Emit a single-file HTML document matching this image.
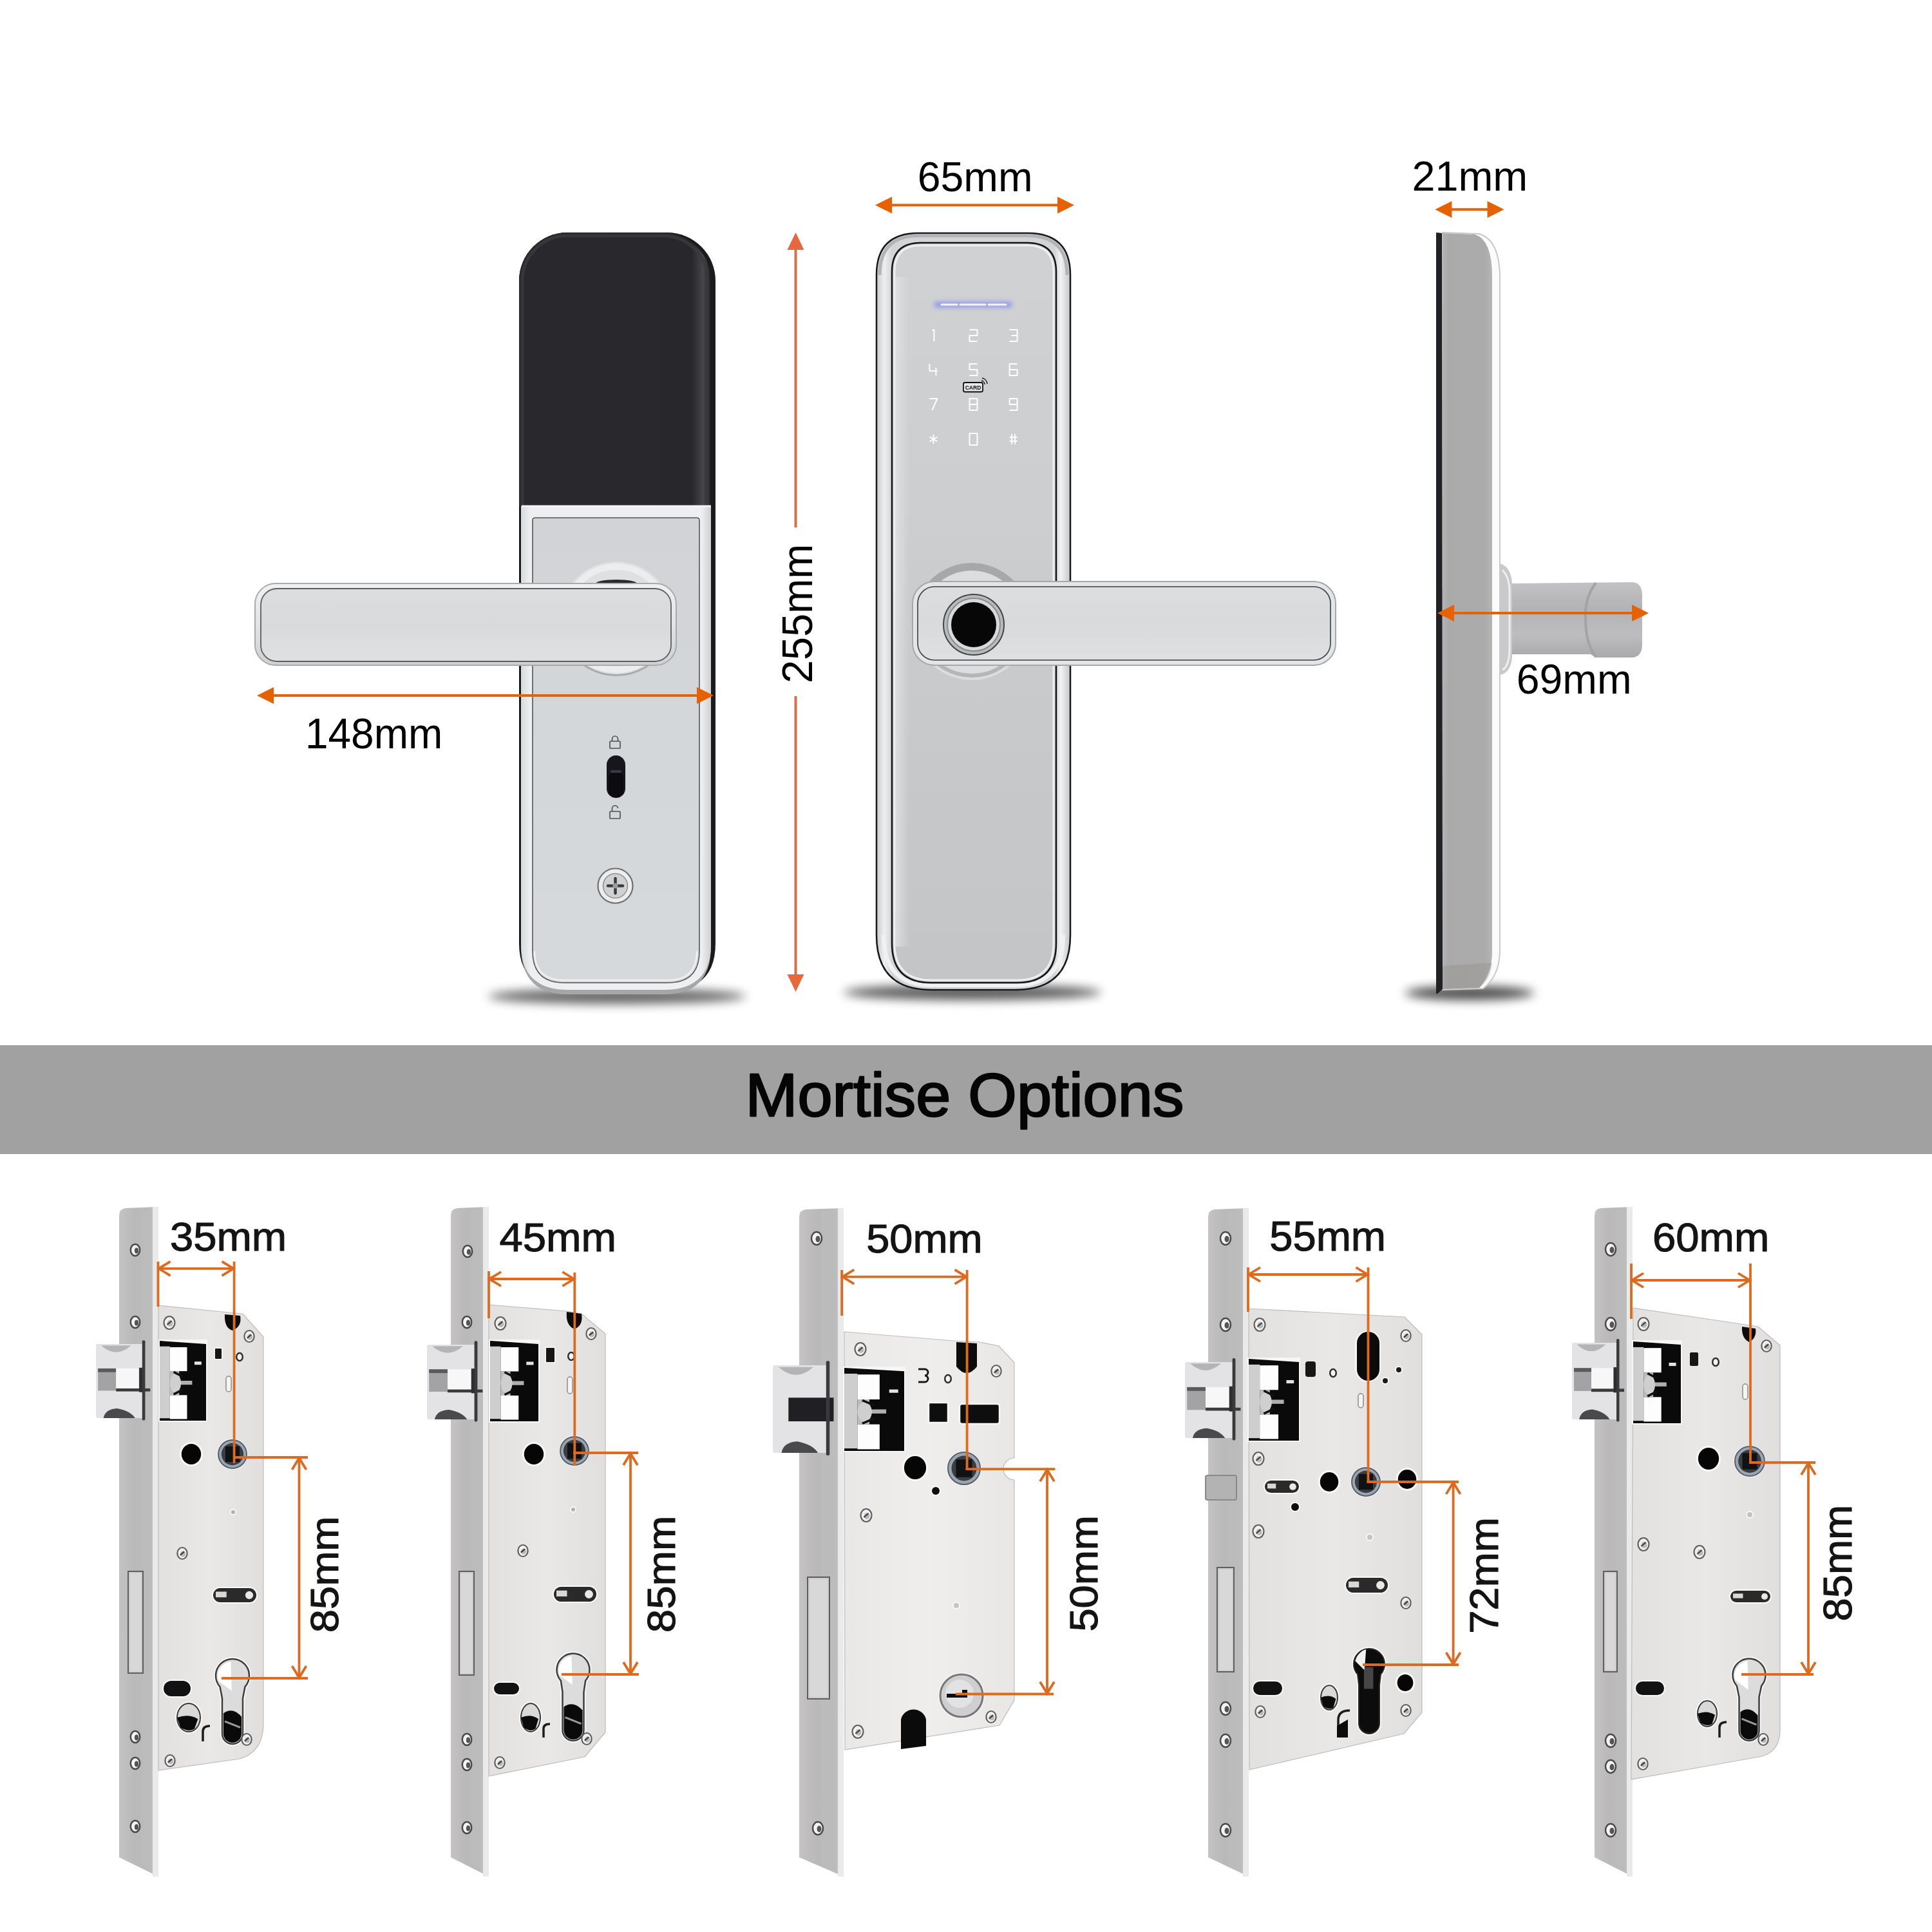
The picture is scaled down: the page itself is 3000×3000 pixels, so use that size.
<!DOCTYPE html>
<html><head><meta charset="utf-8"><style>
html,body{margin:0;padding:0;background:#fff;width:3000px;height:3000px;overflow:hidden}
svg{display:block;font-family:"Liberation Sans", sans-serif}
</style></head><body>
<svg width="3000" height="3000" viewBox="0 0 3000 3000">
<rect width="3000" height="3000" fill="#ffffff"/>

<defs>
<filter id="blur8" x="-50%" y="-200%" width="200%" height="500%"><feGaussianBlur stdDeviation="8"/></filter>
<filter id="blur4" x="-50%" y="-200%" width="200%" height="500%"><feGaussianBlur stdDeviation="4"/></filter>
<filter id="blur2" x="-50%" y="-50%" width="200%" height="200%"><feGaussianBlur stdDeviation="1.5"/></filter>
<filter id="glow" x="-50%" y="-800%" width="200%" height="1700%"><feGaussianBlur stdDeviation="3"/></filter>
<linearGradient id="blackTop" x1="0" x2="1" y1="0" y2="0">
 <stop offset="0" stop-color="#29292d"/><stop offset="0.9" stop-color="#28282c"/><stop offset="0.96" stop-color="#46464b"/><stop offset="1" stop-color="#1c1c1e"/>
</linearGradient>
<linearGradient id="panelBack" x1="0" x2="0" y1="0" y2="1">
 <stop offset="0" stop-color="#d1d3d6"/><stop offset="0.5" stop-color="#d4d7da"/><stop offset="1" stop-color="#d6d9dc"/>
</linearGradient>
<linearGradient id="panelFront" x1="0" x2="0" y1="0" y2="1">
 <stop offset="0" stop-color="#d0d1d3"/><stop offset="0.35" stop-color="#cdcecf"/><stop offset="0.7" stop-color="#c7c8c9"/><stop offset="1" stop-color="#c4c5c7"/>
</linearGradient>
<linearGradient id="leverFace" x1="0" x2="0" y1="0" y2="1">
 <stop offset="0" stop-color="#dcdddf"/><stop offset="0.5" stop-color="#d9dadc"/><stop offset="1" stop-color="#dfe0e2"/>
</linearGradient>
<linearGradient id="sideBody" x1="0" x2="1" y1="0" y2="0">
 <stop offset="0" stop-color="#b4b4b4"/><stop offset="0.12" stop-color="#aaaaaa"/><stop offset="0.85" stop-color="#ababab"/><stop offset="1" stop-color="#b5b5b5"/>
</linearGradient>
<linearGradient id="knob" x1="0" x2="0" y1="0" y2="1">
 <stop offset="0" stop-color="#c2c2c4"/><stop offset="0.35" stop-color="#b3b3b5"/><stop offset="0.7" stop-color="#bdbdbf"/><stop offset="1" stop-color="#a9a9ab"/>
</linearGradient>
<radialGradient id="rose" cx="0.5" cy="0.5" r="0.5">
 <stop offset="0.6" stop-color="#e4e5e7"/><stop offset="0.9" stop-color="#d5d6d8"/><stop offset="1" stop-color="#c0c1c3"/>
</radialGradient>
<linearGradient id="fpGrad" x1="0" x2="1" y1="0" y2="0">
 <stop offset="0" stop-color="#c4c2c2"/><stop offset="0.4" stop-color="#bab9b9"/><stop offset="0.8" stop-color="#bdbcbc"/><stop offset="1" stop-color="#c8c7c7"/>
</linearGradient>
<linearGradient id="bodyGrad" x1="0" x2="1" y1="0" y2="0">
 <stop offset="0" stop-color="#e3e1df"/><stop offset="0.5" stop-color="#eae8e7"/><stop offset="1" stop-color="#e1dfdd"/>
</linearGradient>
<linearGradient id="bodyGrad3" x1="0" x2="1" y1="0" y2="0">
 <stop offset="0" stop-color="#e9e8e6"/><stop offset="0.5" stop-color="#efeeec"/><stop offset="1" stop-color="#e8e7e5"/>
</linearGradient>
<linearGradient id="latchGrad" x1="0" x2="0" y1="0" y2="1">
 <stop offset="0" stop-color="#d3d2d2"/><stop offset="0.3" stop-color="#c4c3c3"/><stop offset="0.6" stop-color="#d9d8d8"/><stop offset="1" stop-color="#bdbcbc"/>
</linearGradient>
<linearGradient id="bezelBack" x1="0" x2="1" y1="0" y2="0">
 <stop offset="0" stop-color="#d9dadc"/><stop offset="0.05" stop-color="#eeeff0"/><stop offset="0.95" stop-color="#eeeff0"/><stop offset="1" stop-color="#cfd0d2"/>
</linearGradient>
<linearGradient id="bezelFront" x1="0" x2="1" y1="0" y2="0">
 <stop offset="0" stop-color="#c9cacc"/><stop offset="0.04" stop-color="#eeeff0"/><stop offset="0.08" stop-color="#d3d4d6"/><stop offset="0.92" stop-color="#d3d4d6"/><stop offset="0.95" stop-color="#f2f3f4"/><stop offset="1" stop-color="#c5c6c8"/>
</linearGradient>
<linearGradient id="leverRim" x1="0" x2="0" y1="0" y2="1">
 <stop offset="0" stop-color="#f0f1f2"/><stop offset="0.5" stop-color="#e2e3e5"/><stop offset="1" stop-color="#cfd0d2"/>
</linearGradient>
<linearGradient id="leftHL" x1="0" x2="1" y1="0" y2="0"><stop offset="0" stop-color="#e2e3e5" stop-opacity="0.8"/><stop offset="1" stop-color="#e2e3e5" stop-opacity="0"/></linearGradient>
</defs>

<rect x="0" y="1623" width="3000" height="169" fill="#a1a1a1"/><ellipse cx="958" cy="1547" rx="200" ry="12" fill="#000" opacity="0.6" filter="url(#blur8)"/><path d="M806 436 A75 75 0 0 1 881 361 L1036 361 A75 75 0 0 1 1111 436 L1111 1465 Q1111 1530 1050 1538 L870 1538 Q806 1530 806 1465 Z" fill="#1b1b1e"/><path d="M806 436 A75 75 0 0 1 881 361 L1029 361 A75 75 0 0 1 1104 436 L1104 786 L806 786 Z" fill="url(#blackTop)"/><path d="M811 786 L811 436 A70 70 0 0 1 881 366 L1029 366 A70 70 0 0 1 1099 436 L1099 786" fill="none" stroke="#3a3a3f" stroke-width="5" opacity="0.8"/><path d="M809 786 L1104 786 L1104 1470 Q1104 1544 1031 1544 L882 1544 Q809 1544 809 1470 Z" fill="#a5a6a8"/><path d="M809 786 L1104 786 L1104 1466 Q1104 1537 1031 1537 L882 1537 Q809 1537 809 1466 Z" fill="url(#bezelBack)"/><line x1="810" y1="786" x2="1104" y2="786" stroke="#f4f5f6" stroke-width="3"/><path d="M827 808 Q827 804 831 804 L1082 804 Q1086 804 1086 808 L1086 1477 Q1086 1526 1037 1526 L876 1526 Q827 1526 827 1477 Z" fill="url(#panelBack)" stroke="#55565a" stroke-width="1.6"/><path d="M830 1477 Q830 1522 876 1522 L1037 1522 Q1082 1522 1082 1477" fill="none" stroke="#eef0f2" stroke-width="2.5"/><circle cx="957" cy="960" r="88" fill="#dfe0e2"/><circle cx="957" cy="960" r="80" fill="none" stroke="#ecedef" stroke-width="10"/><path d="M880 1003 A88 88 0 0 0 1034 1003" fill="none" stroke="#a9aaac" stroke-width="3"/><ellipse cx="957" cy="906" rx="32" ry="6" fill="#2a2a2e"/><rect x="396" y="906" width="654" height="127" rx="32" fill="url(#leverRim)" stroke="#a9aaac" stroke-width="2"/><rect x="405" y="914" width="637" height="113" rx="25" fill="url(#leverFace)" stroke="#5d5e60" stroke-width="1.8"/><rect x="942" y="1173" width="29" height="66" rx="14.5" fill="#16161c"/><rect x="945" y="1198" width="23" height="40" rx="9" fill="#0b0b10"/><rect x="948" y="1196" width="17" height="4" rx="2" fill="#3a3a44"/><g fill="none" stroke="#505155" stroke-width="1.7"><rect x="947" y="1151" width="16" height="11" rx="1"/><path d="M950.5 1151 v-3.5 a4.5 4.5 0 0 1 9 0 v3.5"/><rect x="947" y="1260" width="16" height="11" rx="1"/><path d="M950.5 1260 v-4 a4.5 4.5 0 0 1 9 -1"/></g><circle cx="955.5" cy="1375.5" r="27" fill="#eceded" stroke="#6f7073" stroke-width="2.2"/><circle cx="955.5" cy="1375.5" r="19" fill="#d0d1d3" stroke="#8d8e91" stroke-width="1.5"/><path d="M955.5 1364 v23 M944 1375.5 h23" stroke="#3a3b3e" stroke-width="4.5" stroke-linecap="round"/><circle cx="955.5" cy="1375.5" r="4" fill="#9a9b9d"/><ellipse cx="1510" cy="1541" rx="200" ry="12" fill="#000" opacity="0.65" filter="url(#blur8)"/><path d="M1361 427 Q1361 362 1426 362 L1596 362 Q1662 362 1662 427 L1662 1452 Q1662 1537 1577 1537 L1446 1537 Q1361 1537 1361 1452 Z" fill="url(#bezelFront)"/><path d="M1361 427 Q1361 362 1426 362 L1596 362 Q1662 362 1662 427 L1662 1452 Q1662 1537 1577 1537 L1446 1537 Q1361 1537 1361 1452 Z" fill="none" stroke="#18181a" stroke-width="2.5"/><path d="M1366 427 Q1366 366 1426 366 L1596 366 Q1657 366 1657 427" fill="none" stroke="#b3b4b6" stroke-width="5"/><path d="M1372 1452 Q1372 1530 1446 1530 L1577 1530 Q1651 1530 1651 1452" fill="none" stroke="#f0f1f2" stroke-width="6"/><path d="M1385 422 Q1385 377 1430 377 L1595 377 Q1640 377 1640 422 L1640 1465 Q1640 1526 1579 1526 L1446 1526 Q1385 1526 1385 1465 Z" fill="url(#panelFront)" stroke="#141416" stroke-width="2.5"/><path d="M1389 422 Q1389 381 1430 381 L1595 381 Q1636 381 1636 422 L1636 1465 Q1636 1522 1579 1522 L1446 1522 Q1389 1522 1389 1465 Z" fill="none" stroke="#eceef0" stroke-width="3"/><rect x="1390" y="430" width="22" height="1040" fill="url(#leftHL)"/><rect x="1450" y="468" width="122" height="10" rx="5" fill="#6a78ff" opacity="0.55" filter="url(#glow)"/><g stroke="#f4f5ff" stroke-width="3" stroke-linecap="round"><line x1="1462" y1="473" x2="1486" y2="473"/><line x1="1491" y1="473" x2="1530" y2="473"/><line x1="1535" y1="473" x2="1562" y2="473"/></g><g fill="none" stroke="#ffffff" stroke-width="2" stroke-linejoin="round"><path transform="translate(1449.4 521)" d="M-2 -8 L1 -9 L1 9"/><path transform="translate(1511.5 521)" d="M-6 -9 H6 V0 H-6 V9 H6"/><path transform="translate(1573.6 521)" d="M-6 -9 H6 V9 H-6 M-3 0 H6"/><path transform="translate(1449.4 574)" d="M-6 -9 V2 H6 M4 -3 V9"/><path transform="translate(1511.5 574)" d="M6 -9 H-6 V0 H6 V9 H-6"/><path transform="translate(1573.6 574)" d="M6 -9 H-6 V9 H6 V0 H-6"/><path transform="translate(1449.4 628)" d="M-6 -9 H6 L-2 9"/><path transform="translate(1511.5 628)" d="M-6 -9 H6 V9 H-6 Z M-6 0 H6"/><path transform="translate(1573.6 628)" d="M6 0 H-6 V-9 H6 V9 H-6"/><path transform="translate(1449.4 682)" d="M0 -7 V7 M-6 -3.5 L6 3.5 M-6 3.5 L6 -3.5"/><path transform="translate(1511.5 682)" d="M-6 -9 H6 V9 H-6 Z"/><path transform="translate(1573.6 682)" d="M-2.5 -8 V8 M2.5 -8 V8 M-6 -3 H6 M-6 3 H6"/></g><rect x="1496" y="594" width="30" height="14.5" rx="2.5" fill="#e8e8e8" stroke="#111" stroke-width="1.8"/><text x="1511" y="605" font-size="8.5" font-weight="bold" text-anchor="middle" fill="#111" font-family='"Liberation Sans", sans-serif'>CARD</text><path d="M1524 591 a6 6 0 0 1 5 6 M1525 587 a10 10 0 0 1 8 9" fill="none" stroke="#111" stroke-width="1.4"/><circle cx="1509" cy="965" r="91" fill="#dcdde0"/><path d="M1424 965 A85 85 0 0 1 1594 965" fill="none" stroke="#a7a8aa" stroke-width="12"/><path d="M1438 1010 A84 84 0 0 0 1580 1010" fill="none" stroke="#b5b6b8" stroke-width="6"/><rect x="1417" y="903" width="657" height="130" rx="34" fill="#e4e5e7" stroke="#a7a8aa" stroke-width="2"/><rect x="1425" y="911" width="641" height="114" rx="26" fill="url(#leverFace)" stroke="#3d3e40" stroke-width="1.6"/><circle cx="1512" cy="970" r="47" fill="#b9babc" stroke="#444" stroke-width="2"/><circle cx="1512" cy="970" r="41" fill="#d8d9db" stroke="#8a8b8d" stroke-width="2"/><circle cx="1512" cy="970" r="35" fill="#070708"/><ellipse cx="2282" cy="1542" rx="100" ry="11" fill="#000" opacity="0.7" filter="url(#blur8)"/><path d="M2240 361 L2296 363 Q2329 372 2329 432 L2329 1475 Q2329 1515 2303 1535 L2240 1537 Z" fill="#fbfbfb" stroke="#c9c9c9" stroke-width="2"/><path d="M2240 362 L2290 364 Q2317 372 2317 430 L2317 1478 Q2317 1512 2297 1534 L2240 1536 Z" fill="url(#sideBody)"/><path d="M2240 1500 L2317 1495 Q2315 1520 2297 1534 L2240 1536 Z" fill="#8e8c8a" opacity="0.35"/><path d="M2230 361 L2239 362 L2240 1536 L2232 1543 L2230 1543 Z" fill="#202124"/><path d="M2329 875 Q2346 880 2348 905 L2348 1020 Q2346 1045 2329 1048 Z" fill="#c9c9cb"/><path d="M2333 885 Q2343 895 2344 915 L2344 1010 Q2343 1035 2333 1040" fill="none" stroke="#eeeeee" stroke-width="3"/><path d="M2348 906 L2535 904 Q2550 905 2550 925 L2550 1000 Q2550 1020 2535 1021 L2478 1021 Q2470 1016 2470 1016 L2348 1016 Z" fill="url(#knob)"/><path d="M2478 905 Q2460 930 2462 960 Q2462 1000 2478 1020" fill="none" stroke="#a3a3a5" stroke-width="4"/><line x1="1384" y1="318.6" x2="1643" y2="318.6" stroke="#e66200" stroke-width="4"/><polygon points="1359,318.6 1385,305.6 1385,331.6" fill="#e66200"/><polygon points="1668,318.6 1642,305.6 1642,331.6" fill="#e66200"/><line x1="2253.4" y1="325.3" x2="2310.5" y2="325.3" stroke="#e66200" stroke-width="4"/><polygon points="2228.4,325.3 2254.4,312.3 2254.4,338.3" fill="#e66200"/><polygon points="2335.5,325.3 2309.5,312.3 2309.5,338.3" fill="#e66200"/><line x1="424" y1="1080" x2="1083" y2="1080" stroke="#e66200" stroke-width="4"/><polygon points="399,1080 425,1067 425,1093" fill="#e66200"/><polygon points="1108,1080 1082,1067 1082,1093" fill="#e66200"/><line x1="2257" y1="952" x2="2535" y2="952" stroke="#e66200" stroke-width="4"/><polygon points="2232,952 2258,939 2258,965" fill="#e66200"/><polygon points="2560,952 2534,939 2534,965" fill="#e66200"/><line x1="1235.5" y1="386" x2="1235.5" y2="819" stroke="#df6c44" stroke-width="4"/><line x1="1235.5" y1="1081" x2="1235.5" y2="1515" stroke="#df6c44" stroke-width="4"/><polygon points="1235.5,361 1222.5,388 1248.5,388" fill="#e8683e"/><polygon points="1235.5,1540 1222.5,1513 1248.5,1513" fill="#e8683e"/><path d="M185 1888 Q185 1877 195 1876 L246 1874 L246 2914 L185 2884 Z" fill="url(#fpGrad)"/><rect x="237" y="1874" width="9" height="1040" fill="#ebeaea"/><path d="M246 2027 L345 2037 L377 2040 L409 2076 L409 2676 Q409 2720 373 2731 L246 2749 Z" fill="url(#bodyGrad)"/><path d="M246 2027 L345 2037 L377 2040 L409 2076 L409 2676 Q409 2720 373 2731 L246 2749 Z" fill="none" stroke="#bdbcbc" stroke-width="1.2"/><path d="M349 2041 L373 2043 Q376 2060 361 2066 Q348 2062 349 2041 Z" fill="#0c0c0c"/><rect x="149" y="2087" width="75.66" height="115" rx="3" fill="#e3e3e5"/><path d="M156.8 2089.3 Q180.2 2110.0 203.6 2089.3 Z" fill="#b4b4b6"/><path d="M160.7 2202 Q163.04 2188.2 181.76 2187.05 Q202.04000000000002 2190.5 209.84 2202 Z" fill="#4a4a4c"/><rect x="152.12" y="2124.95" width="28.08" height="34.5" fill="#a3a3a6"/><rect x="152.12" y="2124.95" width="28.08" height="5.75" fill="#5a5a5c"/><rect x="180.2" y="2124.95" width="35.1" height="31.05" fill="#f7f7f7"/><rect x="180.2" y="2156.0" width="53.040000000000006" height="4.6000000000000005" fill="#3a3a3c"/><rect x="216.07999999999998" y="2123.8" width="5.460000000000001" height="37.95" fill="#2e2e30"/><rect x="220.76" y="2081.25" width="4.68" height="124.2" rx="2" fill="#3a3a3c"/><rect x="246" y="2080" width="76" height="128" fill="#f6f6f6"/><path d="M248 2082 L320 2086.96 L320 2206 L248 2206 Z" fill="#0a0a0a"/><rect x="248" y="2090.68" width="15.84" height="111.60000000000001" fill="#cfcece"/><rect x="263.84" y="2091.92" width="26.64" height="37.199999999999996" fill="#fdfdfd"/><rect x="263.84" y="2166.32" width="26.64" height="37.199999999999996" fill="#fdfdfd"/><rect x="263.84" y="2129.12" width="14.4" height="37.199999999999996" fill="#bdbdbd"/><ellipse cx="272.48" cy="2147.72" rx="8.64" ry="14.879999999999999" fill="#cfcfcf"/><path d="M269.6 2130.36 L284.0 2137.8 M269.6 2165.08 L284.0 2157.64" stroke="#111" stroke-width="3.5"/><rect x="280.4" y="2144.0" width="18.0" height="6.2" fill="#d8d8d8" opacity="0.8"/><rect x="302.0" y="2114.24" width="10.799999999999999" height="4.96" fill="#e4e4e4"/><ellipse cx="210" cy="1941" rx="7.2" ry="9" fill="#f4f4f4" stroke="#4a4949" stroke-width="2.5"/><ellipse cx="212" cy="1942" rx="3.15" ry="4.5" fill="#555"/><ellipse cx="210" cy="2053" rx="7.2" ry="9" fill="#f4f4f4" stroke="#4a4949" stroke-width="2.5"/><ellipse cx="212" cy="2054" rx="3.15" ry="4.5" fill="#555"/><ellipse cx="263" cy="2054" rx="8.5" ry="10" fill="#f2f1f1" stroke="#605f5f" stroke-width="2.2"/><ellipse cx="264" cy="2055" rx="4.5" ry="5.0" fill="#b9b8b8"/><line x1="259.5" y1="2057.0" x2="266.5" y2="2051.0" stroke="#3c3b3b" stroke-width="2.2"/><ellipse cx="387" cy="2075" rx="7.6499999999999995" ry="9" fill="#f2f1f1" stroke="#605f5f" stroke-width="2.2"/><ellipse cx="388" cy="2076" rx="4.05" ry="4.5" fill="#b9b8b8"/><line x1="383.85" y1="2077.7" x2="390.15" y2="2072.3" stroke="#3c3b3b" stroke-width="2.2"/><ellipse cx="372" cy="2107" rx="4.800000000000001" ry="6" fill="#f4f4f4" stroke="#2e2e2e" stroke-width="2.5"/><rect x="333" y="2093" width="12" height="18" rx="2" fill="#161616" stroke="#f2f2f2" stroke-width="2"/><rect x="351" y="2137" width="8" height="24" rx="4" fill="#f4f4f4" stroke="#8c8b8b" stroke-width="1.5"/><ellipse cx="297" cy="2258" rx="18.2" ry="19" fill="#f7f7f7"/><ellipse cx="297" cy="2258" rx="15.2" ry="16" fill="#060606"/><circle cx="361" cy="2258" r="24" fill="#f4f4f4"/><circle cx="361" cy="2258" r="22" fill="#9aa6b2" stroke="#57606b" stroke-width="2"/><circle cx="361" cy="2258" r="17.16" fill="#3a3d42"/><rect x="350.0" y="2245.9" width="22.0" height="24.200000000000003" fill="#111214"/><circle cx="362" cy="2348" r="5" fill="#f7f7f7"/><circle cx="362" cy="2348" r="3" fill="#b0b0b0"/><ellipse cx="283" cy="2412" rx="7.6499999999999995" ry="9" fill="#f2f1f1" stroke="#605f5f" stroke-width="2.2"/><ellipse cx="284" cy="2413" rx="4.05" ry="4.5" fill="#b9b8b8"/><line x1="279.85" y1="2414.7" x2="286.15" y2="2409.3" stroke="#3c3b3b" stroke-width="2.2"/><rect x="329" y="2464" width="71" height="26" rx="13.0" fill="#fafafa"/><rect x="331" y="2466" width="67" height="22" rx="11.0" fill="#2a2a2a"/><rect x="335" y="2471.5" width="16.75" height="8.8" fill="#d8d8d8"/><circle cx="387.0" cy="2477.0" r="6.16" fill="#e8e8e8"/><rect x="199" y="2440" width="23" height="158" fill="#cdcccc" stroke="#5f5e5e" stroke-width="2"/><rect x="202" y="2443" width="17" height="152" fill="#d9d8d8"/><rect x="252" y="2608" width="46" height="28" rx="14.0" fill="#f8f8f8"/><rect x="254" y="2610" width="42" height="24" rx="12.0" fill="#121212"/><ellipse cx="293" cy="2667" rx="21" ry="25" fill="#f8f8f8"/><ellipse cx="293" cy="2667" rx="18" ry="22" fill="#d9d9d9" stroke="#3a3a3a" stroke-width="2"/><path d="M275 2667 Q293 2660.4 307.4 2669.2 L302.0 2684.6 Q293 2690.1 280.4 2682.4 Z" fill="#0b0b0b"/><path d="M326 2680 Q315 2680 315 2688.4 L315 2704" fill="none" stroke="#1c1c1c" stroke-width="3.5"/><path d="M341.5 2619.16 A26 26 0 1 1 380.5 2619.16 L377 2637.1 L377 2692 A16 16 0 0 1 345 2692 L345 2637.1 Z" fill="#f9f9f9" stroke="#f9f9f9" stroke-width="6"/><path d="M341.5 2619.16 A26 26 0 1 1 380.5 2619.16 L377 2637.1 L377 2692 A16 16 0 0 1 345 2692 L345 2637.1 Z" fill="#dcdcdc" stroke="#3d3d3d" stroke-width="2.5"/><path d="M338.9 2609.8 A23.400000000000002 23.400000000000002 0 0 1 358.4 2579.9 L359.7 2625.4 Z" fill="#ffffff"/><path d="M347 2660.5 Q361 2650.1 375 2665.7 L375 2692 A14 14 0 0 1 347 2692 Z" fill="#0a0a0a"/><path d="M349 2672.8 L373 2682.4" stroke="#9a9a9a" stroke-width="3"/><ellipse cx="383" cy="2701" rx="7.6499999999999995" ry="9" fill="#f2f1f1" stroke="#605f5f" stroke-width="2.2"/><ellipse cx="384" cy="2702" rx="4.05" ry="4.5" fill="#b9b8b8"/><line x1="379.85" y1="2703.7" x2="386.15" y2="2698.3" stroke="#3c3b3b" stroke-width="2.2"/><ellipse cx="264" cy="2734" rx="7.6499999999999995" ry="9" fill="#f2f1f1" stroke="#605f5f" stroke-width="2.2"/><ellipse cx="265" cy="2735" rx="4.05" ry="4.5" fill="#b9b8b8"/><line x1="260.85" y1="2736.7" x2="267.15" y2="2731.3" stroke="#3c3b3b" stroke-width="2.2"/><ellipse cx="210" cy="2697" rx="7.2" ry="9" fill="#f4f4f4" stroke="#4a4949" stroke-width="2.5"/><ellipse cx="212" cy="2698" rx="3.15" ry="4.5" fill="#555"/><ellipse cx="210" cy="2738" rx="7.2" ry="9" fill="#f4f4f4" stroke="#4a4949" stroke-width="2.5"/><ellipse cx="212" cy="2739" rx="3.15" ry="4.5" fill="#555"/><ellipse cx="210" cy="2836" rx="7.2" ry="9" fill="#f4f4f4" stroke="#4a4949" stroke-width="2.5"/><ellipse cx="212" cy="2837" rx="3.15" ry="4.5" fill="#555"/><path d="M700 1888 Q700 1877 710 1876 L759 1874 L759 2914 L700 2884 Z" fill="url(#fpGrad)"/><rect x="750" y="1874" width="9" height="1040" fill="#ebeaea"/><path d="M759 2026 L880 2036 L903 2040 L940 2071 L940 2690 L908 2728 L759 2758 Z" fill="url(#bodyGrad)"/><path d="M759 2026 L880 2036 L903 2040 L940 2071 L940 2690 L908 2728 L759 2758 Z" fill="none" stroke="#bdbcbc" stroke-width="1.2"/><path d="M880 2037 L903 2040 Q906 2058 892 2064 Q878 2058 880 2037 Z" fill="#0c0c0c"/><rect x="663" y="2088" width="77.6" height="116" rx="3" fill="#e3e3e5"/><path d="M671.0 2090.32 Q695.0 2111.2 719.0 2090.32 Z" fill="#b4b4b6"/><path d="M675.0 2204 Q677.4 2190.08 696.6 2188.92 Q717.4 2192.4 725.4 2204 Z" fill="#4a4a4c"/><rect x="666.2" y="2126.28" width="28.799999999999997" height="34.8" fill="#a3a3a6"/><rect x="666.2" y="2126.28" width="28.799999999999997" height="5.800000000000001" fill="#5a5a5c"/><rect x="695.0" y="2126.28" width="36.0" height="31.32" fill="#f7f7f7"/><rect x="695.0" y="2157.6" width="54.400000000000006" height="4.64" fill="#3a3a3c"/><rect x="731.8" y="2125.12" width="5.6000000000000005" height="38.28" fill="#2e2e30"/><rect x="736.6" y="2082.2" width="4.8" height="125.28" rx="2" fill="#3a3a3c"/><rect x="759" y="2080" width="79" height="129" fill="#f6f6f6"/><path d="M761 2082 L836 2087.0 L836 2207 L761 2207 Z" fill="#0a0a0a"/><rect x="761" y="2090.75" width="16.5" height="112.5" fill="#cfcece"/><rect x="777.5" y="2092.0" width="27.75" height="37.5" fill="#fdfdfd"/><rect x="777.5" y="2167.0" width="27.75" height="37.5" fill="#fdfdfd"/><rect x="777.5" y="2129.5" width="15.0" height="37.5" fill="#bdbdbd"/><ellipse cx="786.5" cy="2148.25" rx="9.0" ry="15.0" fill="#cfcfcf"/><path d="M783.5 2130.75 L798.5 2138.25 M783.5 2165.75 L798.5 2158.25" stroke="#111" stroke-width="3.5"/><rect x="794.75" y="2144.5" width="18.75" height="6.25" fill="#d8d8d8" opacity="0.8"/><rect x="817.25" y="2114.5" width="11.25" height="5.0" fill="#e4e4e4"/><ellipse cx="726" cy="1943" rx="7.2" ry="9" fill="#f4f4f4" stroke="#4a4949" stroke-width="2.5"/><ellipse cx="728" cy="1944" rx="3.15" ry="4.5" fill="#555"/><ellipse cx="725" cy="2053" rx="7.2" ry="9" fill="#f4f4f4" stroke="#4a4949" stroke-width="2.5"/><ellipse cx="727" cy="2054" rx="3.15" ry="4.5" fill="#555"/><ellipse cx="777" cy="2055" rx="8.5" ry="10" fill="#f2f1f1" stroke="#605f5f" stroke-width="2.2"/><ellipse cx="778" cy="2056" rx="4.5" ry="5.0" fill="#b9b8b8"/><line x1="773.5" y1="2058.0" x2="780.5" y2="2052.0" stroke="#3c3b3b" stroke-width="2.2"/><ellipse cx="918" cy="2071" rx="7.6499999999999995" ry="9" fill="#f2f1f1" stroke="#605f5f" stroke-width="2.2"/><ellipse cx="919" cy="2072" rx="4.05" ry="4.5" fill="#b9b8b8"/><line x1="914.85" y1="2073.7" x2="921.15" y2="2068.3" stroke="#3c3b3b" stroke-width="2.2"/><ellipse cx="887" cy="2106" rx="4.800000000000001" ry="6" fill="#f4f4f4" stroke="#2e2e2e" stroke-width="2.5"/><rect x="847" y="2092" width="15" height="24" rx="2" fill="#161616" stroke="#f2f2f2" stroke-width="2"/><rect x="881" y="2138" width="8" height="26" rx="4" fill="#f4f4f4" stroke="#8c8b8b" stroke-width="1.5"/><ellipse cx="829" cy="2258" rx="18.2" ry="19" fill="#f7f7f7"/><ellipse cx="829" cy="2258" rx="15.2" ry="16" fill="#060606"/><circle cx="892" cy="2253" r="24" fill="#f4f4f4"/><circle cx="892" cy="2253" r="22" fill="#9aa6b2" stroke="#57606b" stroke-width="2"/><circle cx="892" cy="2253" r="17.16" fill="#3a3d42"/><rect x="881.0" y="2240.9" width="22.0" height="24.200000000000003" fill="#111214"/><circle cx="890" cy="2344" r="5" fill="#f7f7f7"/><circle cx="890" cy="2344" r="3" fill="#b0b0b0"/><ellipse cx="812" cy="2408" rx="7.6499999999999995" ry="9" fill="#f2f1f1" stroke="#605f5f" stroke-width="2.2"/><ellipse cx="813" cy="2409" rx="4.05" ry="4.5" fill="#b9b8b8"/><line x1="808.85" y1="2410.7" x2="815.15" y2="2405.3" stroke="#3c3b3b" stroke-width="2.2"/><rect x="858" y="2462" width="70" height="27" rx="13.5" fill="#fafafa"/><rect x="860" y="2464" width="66" height="23" rx="11.5" fill="#2a2a2a"/><rect x="864" y="2469.75" width="16.5" height="9.200000000000001" fill="#d8d8d8"/><circle cx="914.5" cy="2475.5" r="6.44" fill="#e8e8e8"/><rect x="713" y="2440" width="23" height="161" fill="#cdcccc" stroke="#5f5e5e" stroke-width="2"/><rect x="716" y="2443" width="17" height="155" fill="#d9d8d8"/><rect x="765" y="2611" width="43" height="22" rx="11.0" fill="#f8f8f8"/><rect x="767" y="2613" width="39" height="18" rx="9.0" fill="#121212"/><ellipse cx="824" cy="2667" rx="18" ry="25" fill="#f8f8f8"/><ellipse cx="824" cy="2667" rx="15" ry="22" fill="#d9d9d9" stroke="#3a3a3a" stroke-width="2"/><path d="M809 2667 Q824 2660.4 836.0 2669.2 L831.5 2684.6 Q824 2690.1 813.5 2682.4 Z" fill="#0b0b0b"/><path d="M854 2677 Q844 2677 844 2684.35 L844 2698" fill="none" stroke="#1c1c1c" stroke-width="3.5"/><path d="M870.875 2609.83 A25.5 25.5 0 1 1 909.125 2609.83 L906.5 2627.425 L906.5 2686.5 A16.5 16.5 0 0 1 873.5 2686.5 L873.5 2627.425 Z" fill="#f9f9f9" stroke="#f9f9f9" stroke-width="6"/><path d="M870.875 2609.83 A25.5 25.5 0 1 1 909.125 2609.83 L906.5 2627.425 L906.5 2686.5 A16.5 16.5 0 0 1 873.5 2686.5 L873.5 2627.425 Z" fill="#dcdcdc" stroke="#3d3d3d" stroke-width="2.5"/><path d="M868.325 2600.65 A22.95 22.95 0 0 1 887.45 2571.325 L888.725 2615.95 Z" fill="#ffffff"/><path d="M875.5 2650.375 Q890 2640.175 904.5 2655.4750000000004 L904.5 2686.5 A14.5 14.5 0 0 1 875.5 2686.5 Z" fill="#0a0a0a"/><path d="M877.5 2666.7 L902.5 2676.6" stroke="#9a9a9a" stroke-width="3"/><ellipse cx="911" cy="2700" rx="7.6499999999999995" ry="9" fill="#f2f1f1" stroke="#605f5f" stroke-width="2.2"/><ellipse cx="912" cy="2701" rx="4.05" ry="4.5" fill="#b9b8b8"/><line x1="907.85" y1="2702.7" x2="914.15" y2="2697.3" stroke="#3c3b3b" stroke-width="2.2"/><ellipse cx="776" cy="2737" rx="7.6499999999999995" ry="9" fill="#f2f1f1" stroke="#605f5f" stroke-width="2.2"/><ellipse cx="777" cy="2738" rx="4.05" ry="4.5" fill="#b9b8b8"/><line x1="772.85" y1="2739.7" x2="779.15" y2="2734.3" stroke="#3c3b3b" stroke-width="2.2"/><ellipse cx="725" cy="2701" rx="7.2" ry="9" fill="#f4f4f4" stroke="#4a4949" stroke-width="2.5"/><ellipse cx="727" cy="2702" rx="3.15" ry="4.5" fill="#555"/><ellipse cx="725" cy="2740" rx="7.2" ry="9" fill="#f4f4f4" stroke="#4a4949" stroke-width="2.5"/><ellipse cx="727" cy="2741" rx="3.15" ry="4.5" fill="#555"/><ellipse cx="725" cy="2838" rx="7.2" ry="9" fill="#f4f4f4" stroke="#4a4949" stroke-width="2.5"/><ellipse cx="727" cy="2839" rx="3.15" ry="4.5" fill="#555"/><path d="M1241 1890 Q1241 1879 1251 1878 L1310 1876 L1310 2914 L1241 2884 Z" fill="url(#fpGrad)"/><rect x="1301" y="1876" width="9" height="1038" fill="#ebeaea"/><path d="M1311 2068 L1481 2082 L1521 2084 L1551 2090 L1575 2116 L1575 2264 A17 17 0 0 0 1575 2298 L1575 2640 L1552 2679 L1312 2717 Z" fill="url(#bodyGrad3)"/><path d="M1311 2068 L1481 2082 L1521 2084 L1551 2090 L1575 2116 L1575 2264 A17 17 0 0 0 1575 2298 L1575 2640 L1552 2679 L1312 2717 Z" fill="none" stroke="#bdbcbc" stroke-width="1.2"/><path d="M1485 2084 L1517 2086 L1517 2122 Q1501 2142 1485 2122 Z" fill="#0c0c0c"/><rect x="1200" y="2120" width="87.3" height="136" rx="3" fill="#e3e3e5"/><path d="M1209.0 2122.72 Q1236.0 2147.2 1263.0 2122.72 Z" fill="#b4b4b6"/><path d="M1213.5 2256 Q1216.2 2239.68 1237.8 2238.32 Q1261.2 2242.4 1270.2 2256 Z" fill="#4a4a4c"/><rect x="1224.3" y="2170.32" width="70.2" height="36.72" fill="#1f1f24"/><rect x="1282.8" y="2113.2" width="5.3999999999999995" height="146.88" rx="2" fill="#3a3a3c"/><rect x="1309" y="2122" width="97" height="133" fill="#f6f6f6"/><path d="M1311 2124 L1404 2129.16 L1404 2253 L1311 2253 Z" fill="#0a0a0a"/><rect x="1311" y="2133.03" width="20.46" height="116.10000000000001" fill="#cfcece"/><rect x="1331.46" y="2134.32" width="34.41" height="38.699999999999996" fill="#fdfdfd"/><rect x="1331.46" y="2211.72" width="34.41" height="38.699999999999996" fill="#fdfdfd"/><rect x="1331.46" y="2173.02" width="18.6" height="38.699999999999996" fill="#bdbdbd"/><ellipse cx="1342.62" cy="2192.37" rx="11.16" ry="15.479999999999999" fill="#cfcfcf"/><path d="M1338.9 2174.31 L1357.5 2182.05 M1338.9 2210.43 L1357.5 2202.69" stroke="#111" stroke-width="3.5"/><rect x="1352.85" y="2188.5" width="23.25" height="6.45" fill="#d8d8d8" opacity="0.8"/><rect x="1380.75" y="2157.54" width="13.95" height="5.16" fill="#e4e4e4"/><ellipse cx="1268" cy="1923" rx="8.0" ry="10" fill="#f4f4f4" stroke="#4a4949" stroke-width="2.5"/><ellipse cx="1270" cy="1924" rx="3.5" ry="5.0" fill="#555"/><ellipse cx="1336" cy="2095" rx="8.5" ry="10" fill="#f2f1f1" stroke="#605f5f" stroke-width="2.2"/><ellipse cx="1337" cy="2096" rx="4.5" ry="5.0" fill="#b9b8b8"/><line x1="1332.5" y1="2098.0" x2="1339.5" y2="2092.0" stroke="#3c3b3b" stroke-width="2.2"/><ellipse cx="1547" cy="2129" rx="7.6499999999999995" ry="9" fill="#f2f1f1" stroke="#605f5f" stroke-width="2.2"/><ellipse cx="1548" cy="2130" rx="4.05" ry="4.5" fill="#b9b8b8"/><line x1="1543.85" y1="2131.7" x2="1550.15" y2="2126.3" stroke="#3c3b3b" stroke-width="2.2"/><path d="M1426 2126 h10 a5 5 0 0 1 0 10 a5 5 0 0 1 0 10 h-10" fill="none" stroke="#1a1a1a" stroke-width="3"/><ellipse cx="1472" cy="2141" rx="4.800000000000001" ry="6" fill="#f4f4f4" stroke="#2e2e2e" stroke-width="2.5"/><rect x="1442" y="2178" width="30" height="31" fill="#0e0e0e" stroke="#f6f6f6" stroke-width="2.5"/><rect x="1490" y="2180" width="62" height="31" rx="4" fill="#0e0e0e" stroke="#f6f6f6" stroke-width="2.5"/><ellipse cx="1421" cy="2279" rx="20.099999999999998" ry="21" fill="#f7f7f7"/><ellipse cx="1421" cy="2279" rx="17.099999999999998" ry="18" fill="#060606"/><circle cx="1497" cy="2280" r="27" fill="#f4f4f4"/><circle cx="1497" cy="2280" r="25" fill="#9aa6b2" stroke="#57606b" stroke-width="2"/><circle cx="1497" cy="2280" r="19.5" fill="#3a3d42"/><rect x="1484.5" y="2266.25" width="25.0" height="27.500000000000004" fill="#111214"/><circle cx="1453" cy="2315" r="8" fill="#f7f7f7"/><circle cx="1453" cy="2315" r="6" fill="#0e0e0e"/><ellipse cx="1345" cy="2353" rx="8.5" ry="10" fill="#f2f1f1" stroke="#605f5f" stroke-width="2.2"/><ellipse cx="1346" cy="2354" rx="4.5" ry="5.0" fill="#b9b8b8"/><line x1="1341.5" y1="2356.0" x2="1348.5" y2="2350.0" stroke="#3c3b3b" stroke-width="2.2"/><circle cx="1485" cy="2493" r="6" fill="#f7f7f7"/><circle cx="1485" cy="2493" r="4" fill="#c4c4c4"/><rect x="1254" y="2449" width="34" height="189" fill="#cdcccc" stroke="#5f5e5e" stroke-width="2"/><rect x="1257" y="2452" width="28" height="183" fill="#d9d8d8"/><circle cx="1493" cy="2633" r="36" fill="#f6f6f6"/><circle cx="1493" cy="2633" r="33" fill="#cfcfd1" stroke="#777" stroke-width="3"/><circle cx="1490" cy="2630" r="22" fill="#e2e2e4"/><path d="M1470 2630 h24 v-6 h8 v12 h-32 z" fill="#0a0a0a"/><path d="M1399 2716 L1399 2670 A20 20 0 0 1 1438 2670 L1438 2711 Z" fill="#0b0b0b"/><ellipse cx="1332" cy="2689" rx="8.5" ry="10" fill="#f2f1f1" stroke="#605f5f" stroke-width="2.2"/><ellipse cx="1333" cy="2690" rx="4.5" ry="5.0" fill="#b9b8b8"/><line x1="1328.5" y1="2692.0" x2="1335.5" y2="2686.0" stroke="#3c3b3b" stroke-width="2.2"/><ellipse cx="1539" cy="2666" rx="7.6499999999999995" ry="9" fill="#f2f1f1" stroke="#605f5f" stroke-width="2.2"/><ellipse cx="1540" cy="2667" rx="4.05" ry="4.5" fill="#b9b8b8"/><line x1="1535.85" y1="2668.7" x2="1542.15" y2="2663.3" stroke="#3c3b3b" stroke-width="2.2"/><ellipse cx="1270" cy="2839" rx="8.0" ry="10" fill="#f4f4f4" stroke="#4a4949" stroke-width="2.5"/><ellipse cx="1272" cy="2840" rx="3.5" ry="5.0" fill="#555"/><path d="M1876 1890 Q1876 1879 1886 1878 L1939 1876 L1939 2914 L1876 2884 Z" fill="url(#fpGrad)"/><rect x="1930" y="1876" width="9" height="1038" fill="#ebeaea"/><path d="M1939 2032 L2181 2045 L2208 2072 L2208 2659 L2180 2692 L1940 2748 Z" fill="url(#bodyGrad)"/><path d="M1939 2032 L2181 2045 L2208 2072 L2208 2659 L2180 2692 L1940 2748 Z" fill="none" stroke="#bdbcbc" stroke-width="1.2"/><rect x="1840" y="2115" width="77.6" height="118" rx="3" fill="#e3e3e5"/><path d="M1848.0 2117.36 Q1872.0 2138.6 1896.0 2117.36 Z" fill="#b4b4b6"/><path d="M1852.0 2233 Q1854.4 2218.84 1873.6 2217.66 Q1894.4 2221.2 1902.4 2233 Z" fill="#4a4a4c"/><rect x="1843.2" y="2153.94" width="28.799999999999997" height="35.4" fill="#a3a3a6"/><rect x="1843.2" y="2153.94" width="28.799999999999997" height="5.9" fill="#5a5a5c"/><rect x="1872.0" y="2153.94" width="36.0" height="31.860000000000003" fill="#f7f7f7"/><rect x="1872.0" y="2185.8" width="54.400000000000006" height="4.72" fill="#3a3a3c"/><rect x="1908.8" y="2152.76" width="5.6000000000000005" height="38.940000000000005" fill="#2e2e30"/><rect x="1913.6" y="2109.1" width="4.8" height="127.44000000000001" rx="2" fill="#3a3a3c"/><rect x="1872" y="2291" width="48" height="38" rx="3" fill="#b4b3b3" stroke="#8a8989" stroke-width="2"/><rect x="1937" y="2108" width="82" height="131" fill="#f6f6f6"/><path d="M1939 2110 L2017 2115.08 L2017 2237 L1939 2237 Z" fill="#0a0a0a"/><rect x="1939" y="2118.89" width="17.16" height="114.3" fill="#cfcece"/><rect x="1956.16" y="2120.16" width="28.86" height="38.1" fill="#fdfdfd"/><rect x="1956.16" y="2196.36" width="28.86" height="38.1" fill="#fdfdfd"/><rect x="1956.16" y="2158.26" width="15.600000000000001" height="38.1" fill="#bdbdbd"/><ellipse cx="1965.52" cy="2177.31" rx="9.36" ry="15.24" fill="#cfcfcf"/><path d="M1962.4 2159.53 L1978.0 2167.15 M1962.4 2195.09 L1978.0 2187.47" stroke="#111" stroke-width="3.5"/><rect x="1974.1" y="2173.5" width="19.5" height="6.3500000000000005" fill="#d8d8d8" opacity="0.8"/><rect x="1997.5" y="2143.02" width="11.7" height="5.08" fill="#e4e4e4"/><ellipse cx="1903" cy="1923" rx="8.0" ry="10" fill="#f4f4f4" stroke="#4a4949" stroke-width="2.5"/><ellipse cx="1905" cy="1924" rx="3.5" ry="5.0" fill="#555"/><ellipse cx="1903" cy="2057" rx="8.0" ry="10" fill="#f4f4f4" stroke="#4a4949" stroke-width="2.5"/><ellipse cx="1905" cy="2058" rx="3.5" ry="5.0" fill="#555"/><ellipse cx="1956" cy="2057" rx="8.5" ry="10" fill="#f2f1f1" stroke="#605f5f" stroke-width="2.2"/><ellipse cx="1957" cy="2058" rx="4.5" ry="5.0" fill="#b9b8b8"/><line x1="1952.5" y1="2060.0" x2="1959.5" y2="2054.0" stroke="#3c3b3b" stroke-width="2.2"/><ellipse cx="2183" cy="2074" rx="7.6499999999999995" ry="9" fill="#f2f1f1" stroke="#605f5f" stroke-width="2.2"/><ellipse cx="2184" cy="2075" rx="4.05" ry="4.5" fill="#b9b8b8"/><line x1="2179.85" y1="2076.7" x2="2186.15" y2="2071.3" stroke="#3c3b3b" stroke-width="2.2"/><rect x="2027" y="2114" width="16" height="24" rx="4" fill="#161616"/><ellipse cx="2070" cy="2132" rx="4.800000000000001" ry="6" fill="#f4f4f4" stroke="#2e2e2e" stroke-width="2.5"/><rect x="2104" y="2066" width="40" height="80" rx="20" fill="#f6f6f6"/><rect x="2107" y="2068" width="35" height="76" rx="17.5" fill="#0b0b0b"/><circle cx="2172" cy="2127" r="6" fill="#f7f7f7"/><circle cx="2172" cy="2127" r="4" fill="#1a1a1a"/><circle cx="2151" cy="2144" r="6" fill="#f7f7f7"/><circle cx="2151" cy="2144" r="4" fill="#1a1a1a"/><rect x="2109" y="2164" width="8" height="22" rx="4" fill="#f4f4f4" stroke="#8c8b8b" stroke-width="1.5"/><ellipse cx="1954" cy="2265" rx="8.5" ry="10" fill="#f2f1f1" stroke="#605f5f" stroke-width="2.2"/><ellipse cx="1955" cy="2266" rx="4.5" ry="5.0" fill="#b9b8b8"/><line x1="1950.5" y1="2268.0" x2="1957.5" y2="2262.0" stroke="#3c3b3b" stroke-width="2.2"/><rect x="1962" y="2297" width="57" height="23" rx="11.5" fill="#fafafa"/><rect x="1964" y="2299" width="53" height="19" rx="9.5" fill="#2a2a2a"/><rect x="1968" y="2303.75" width="13.25" height="7.6000000000000005" fill="#d8d8d8"/><circle cx="2007.5" cy="2308.5" r="5.32" fill="#e8e8e8"/><ellipse cx="2064" cy="2301" rx="17.25" ry="18" fill="#f7f7f7"/><ellipse cx="2064" cy="2301" rx="14.25" ry="15" fill="#060606"/><circle cx="2121" cy="2301" r="24" fill="#f4f4f4"/><circle cx="2121" cy="2301" r="22" fill="#9aa6b2" stroke="#57606b" stroke-width="2"/><circle cx="2121" cy="2301" r="17.16" fill="#3a3d42"/><rect x="2110.0" y="2288.9" width="22.0" height="24.200000000000003" fill="#111214"/><ellipse cx="2185" cy="2297" rx="17.25" ry="18" fill="#f7f7f7"/><ellipse cx="2185" cy="2297" rx="14.25" ry="15" fill="#060606"/><circle cx="2011" cy="2340" r="8" fill="#f7f7f7"/><circle cx="2011" cy="2340" r="6" fill="#0e0e0e"/><ellipse cx="1954" cy="2378" rx="8.5" ry="10" fill="#f2f1f1" stroke="#605f5f" stroke-width="2.2"/><ellipse cx="1955" cy="2379" rx="4.5" ry="5.0" fill="#b9b8b8"/><line x1="1950.5" y1="2381.0" x2="1957.5" y2="2375.0" stroke="#3c3b3b" stroke-width="2.2"/><circle cx="2127" cy="2387" r="6" fill="#f7f7f7"/><circle cx="2127" cy="2387" r="4" fill="#c4c4c4"/><rect x="1890" y="2434" width="26" height="162" fill="#cdcccc" stroke="#5f5e5e" stroke-width="2"/><rect x="1893" y="2437" width="20" height="156" fill="#d9d8d8"/><rect x="2088" y="2448" width="69" height="27" rx="13.5" fill="#fafafa"/><rect x="2090" y="2450" width="65" height="23" rx="11.5" fill="#2a2a2a"/><rect x="2094" y="2455.75" width="16.25" height="9.200000000000001" fill="#d8d8d8"/><circle cx="2143.5" cy="2461.5" r="6.44" fill="#e8e8e8"/><ellipse cx="2183" cy="2489" rx="7.6499999999999995" ry="9" fill="#f2f1f1" stroke="#605f5f" stroke-width="2.2"/><ellipse cx="2184" cy="2490" rx="4.05" ry="4.5" fill="#b9b8b8"/><line x1="2179.85" y1="2491.7" x2="2186.15" y2="2486.3" stroke="#3c3b3b" stroke-width="2.2"/><path d="M2108.0 2599.84 A24 24 0 1 1 2144.0 2599.84 L2142 2616.4 L2142 2676 A16 16 0 0 1 2110 2676 L2110 2616.4 Z" fill="#f9f9f9" stroke="#f9f9f9" stroke-width="6"/><path d="M2108.0 2599.84 A24 24 0 1 1 2144.0 2599.84 L2142 2616.4 L2142 2676 A16 16 0 0 1 2110 2676 L2110 2616.4 Z" fill="#0c0c0c" stroke="#2a2a2a" stroke-width="2"/><path d="M2104.4 2579.2 A24 24 0 0 1 2121.2 2561.2 L2118.8 2593.6 Z" fill="#f2f2f2"/><rect x="2118.0" y="2588.8" width="14.4" height="33.599999999999994" fill="#6d6d6d" opacity="0.6"/><rect x="1944" y="2609" width="49" height="25" rx="12.5" fill="#f8f8f8"/><rect x="1946" y="2611" width="45" height="21" rx="10.5" fill="#121212"/><ellipse cx="2064" cy="2636" rx="16" ry="22" fill="#f8f8f8"/><ellipse cx="2064" cy="2636" rx="13" ry="19" fill="#d9d9d9" stroke="#3a3a3a" stroke-width="2"/><path d="M2051 2636 Q2064 2630.3 2074.4 2637.9 L2070.5 2651.2 Q2064 2655.95 2054.9 2649.3 Z" fill="#0b0b0b"/><ellipse cx="2182" cy="2613" rx="15.35" ry="16" fill="#f7f7f7"/><ellipse cx="2182" cy="2613" rx="12.35" ry="13" fill="#060606"/><path d="M2096 2656 Q2078 2656 2078 2670.7 L2078 2698" fill="none" stroke="#1c1c1c" stroke-width="3.5"/><path d="M2076 2680 L2093 2670 L2093 2698 L2076 2698 Z" fill="#0b0b0b"/><ellipse cx="2183" cy="2656" rx="7.6499999999999995" ry="9" fill="#f2f1f1" stroke="#605f5f" stroke-width="2.2"/><ellipse cx="2184" cy="2657" rx="4.05" ry="4.5" fill="#b9b8b8"/><line x1="2179.85" y1="2658.7" x2="2186.15" y2="2653.3" stroke="#3c3b3b" stroke-width="2.2"/><ellipse cx="1957" cy="2658" rx="7.6499999999999995" ry="9" fill="#f2f1f1" stroke="#605f5f" stroke-width="2.2"/><ellipse cx="1958" cy="2659" rx="4.05" ry="4.5" fill="#b9b8b8"/><line x1="1953.85" y1="2660.7" x2="1960.15" y2="2655.3" stroke="#3c3b3b" stroke-width="2.2"/><ellipse cx="1903" cy="2653" rx="8.0" ry="10" fill="#f4f4f4" stroke="#4a4949" stroke-width="2.5"/><ellipse cx="1905" cy="2654" rx="3.5" ry="5.0" fill="#555"/><ellipse cx="1903" cy="2703" rx="8.0" ry="10" fill="#f4f4f4" stroke="#4a4949" stroke-width="2.5"/><ellipse cx="1905" cy="2704" rx="3.5" ry="5.0" fill="#555"/><ellipse cx="1903" cy="2842" rx="8.0" ry="10" fill="#f4f4f4" stroke="#4a4949" stroke-width="2.5"/><ellipse cx="1905" cy="2843" rx="3.5" ry="5.0" fill="#555"/><path d="M2476 1888 Q2476 1877 2486 1876 L2535 1874 L2535 2914 L2476 2884 Z" fill="url(#fpGrad)"/><rect x="2526" y="1874" width="9" height="1040" fill="#ebeaea"/><path d="M2536 2031 L2704 2056 L2730 2060 L2764 2089 L2764 2690 Q2762 2722 2732 2728 L2533 2763 Z" fill="url(#bodyGrad)"/><path d="M2536 2031 L2704 2056 L2730 2060 L2764 2089 L2764 2690 Q2762 2722 2732 2728 L2533 2763 Z" fill="none" stroke="#bdbcbc" stroke-width="1.2"/><path d="M2705 2060 L2726 2063 Q2728 2078 2716 2084 Q2704 2078 2705 2060 Z" fill="#0c0c0c"/><rect x="2441" y="2085" width="72.75" height="119" rx="3" fill="#e3e3e5"/><path d="M2448.5 2087.38 Q2471.0 2108.8 2493.5 2087.38 Z" fill="#b4b4b6"/><path d="M2452.25 2204 Q2454.5 2189.72 2472.5 2188.53 Q2492.0 2192.1 2499.5 2204 Z" fill="#4a4a4c"/><rect x="2444.0" y="2124.27" width="27.0" height="35.699999999999996" fill="#a3a3a6"/><rect x="2444.0" y="2124.27" width="27.0" height="5.95" fill="#5a5a5c"/><rect x="2471.0" y="2124.27" width="33.75" height="32.13" fill="#f7f7f7"/><rect x="2471.0" y="2156.4" width="51.00000000000001" height="4.76" fill="#3a3a3c"/><rect x="2505.5" y="2123.08" width="5.250000000000001" height="39.27" fill="#2e2e30"/><rect x="2510.0" y="2079.05" width="4.5" height="128.52" rx="2" fill="#3a3a3c"/><rect x="2534" y="2081" width="78" height="131" fill="#f6f6f6"/><path d="M2536 2083 L2610 2088.08 L2610 2210 L2536 2210 Z" fill="#0a0a0a"/><rect x="2536" y="2091.89" width="16.28" height="114.3" fill="#cfcece"/><rect x="2552.28" y="2093.16" width="27.38" height="38.1" fill="#fdfdfd"/><rect x="2552.28" y="2169.36" width="27.38" height="38.1" fill="#fdfdfd"/><rect x="2552.28" y="2131.26" width="14.8" height="38.1" fill="#bdbdbd"/><ellipse cx="2561.16" cy="2150.31" rx="8.879999999999999" ry="15.24" fill="#cfcfcf"/><path d="M2558.2 2132.53 L2573.0 2140.15 M2558.2 2168.09 L2573.0 2160.47" stroke="#111" stroke-width="3.5"/><rect x="2569.3" y="2146.5" width="18.5" height="6.3500000000000005" fill="#d8d8d8" opacity="0.8"/><rect x="2591.5" y="2116.02" width="11.1" height="5.08" fill="#e4e4e4"/><ellipse cx="2501" cy="1940" rx="8.0" ry="10" fill="#f4f4f4" stroke="#4a4949" stroke-width="2.5"/><ellipse cx="2503" cy="1941" rx="3.5" ry="5.0" fill="#555"/><ellipse cx="2501" cy="2056" rx="8.0" ry="10" fill="#f4f4f4" stroke="#4a4949" stroke-width="2.5"/><ellipse cx="2503" cy="2057" rx="3.5" ry="5.0" fill="#555"/><ellipse cx="2552" cy="2056" rx="8.5" ry="10" fill="#f2f1f1" stroke="#605f5f" stroke-width="2.2"/><ellipse cx="2553" cy="2057" rx="4.5" ry="5.0" fill="#b9b8b8"/><line x1="2548.5" y1="2059.0" x2="2555.5" y2="2053.0" stroke="#3c3b3b" stroke-width="2.2"/><ellipse cx="2743" cy="2090" rx="7.6499999999999995" ry="9" fill="#f2f1f1" stroke="#605f5f" stroke-width="2.2"/><ellipse cx="2744" cy="2091" rx="4.05" ry="4.5" fill="#b9b8b8"/><line x1="2739.85" y1="2092.7" x2="2746.15" y2="2087.3" stroke="#3c3b3b" stroke-width="2.2"/><rect x="2624" y="2100" width="13" height="21" rx="2" fill="#161616"/><ellipse cx="2664" cy="2115" rx="4.800000000000001" ry="6" fill="#f4f4f4" stroke="#2e2e2e" stroke-width="2.5"/><rect x="2706" y="2149" width="8" height="24" rx="4" fill="#f4f4f4" stroke="#8c8b8b" stroke-width="1.5"/><ellipse cx="2653" cy="2265" rx="19.15" ry="20" fill="#f7f7f7"/><ellipse cx="2653" cy="2265" rx="16.15" ry="17" fill="#060606"/><circle cx="2717" cy="2269" r="25" fill="#f4f4f4"/><circle cx="2717" cy="2269" r="23" fill="#9aa6b2" stroke="#57606b" stroke-width="2"/><circle cx="2717" cy="2269" r="17.94" fill="#3a3d42"/><rect x="2705.5" y="2256.35" width="23.0" height="25.3" fill="#111214"/><circle cx="2717" cy="2352" r="6" fill="#f7f7f7"/><circle cx="2717" cy="2352" r="4" fill="#c4c4c4"/><ellipse cx="2552" cy="2398" rx="8.5" ry="10" fill="#f2f1f1" stroke="#605f5f" stroke-width="2.2"/><ellipse cx="2553" cy="2399" rx="4.5" ry="5.0" fill="#b9b8b8"/><line x1="2548.5" y1="2401.0" x2="2555.5" y2="2395.0" stroke="#3c3b3b" stroke-width="2.2"/><ellipse cx="2639" cy="2410" rx="8.5" ry="10" fill="#f2f1f1" stroke="#605f5f" stroke-width="2.2"/><ellipse cx="2640" cy="2411" rx="4.5" ry="5.0" fill="#b9b8b8"/><line x1="2635.5" y1="2413.0" x2="2642.5" y2="2407.0" stroke="#3c3b3b" stroke-width="2.2"/><rect x="2685" y="2468" width="66" height="22" rx="11.0" fill="#fafafa"/><rect x="2687" y="2470" width="62" height="18" rx="9.0" fill="#2a2a2a"/><rect x="2691" y="2474.5" width="15.5" height="7.2" fill="#d8d8d8"/><circle cx="2740.0" cy="2479.0" r="5.040000000000001" fill="#e8e8e8"/><rect x="2490" y="2440" width="21" height="156" fill="#cdcccc" stroke="#5f5e5e" stroke-width="2"/><rect x="2493" y="2443" width="15" height="150" fill="#d9d8d8"/><rect x="2538" y="2609" width="48" height="25" rx="12.5" fill="#f8f8f8"/><rect x="2540" y="2611" width="44" height="21" rx="10.5" fill="#121212"/><ellipse cx="2651" cy="2661" rx="18" ry="23" fill="#f8f8f8"/><ellipse cx="2651" cy="2661" rx="15" ry="20" fill="#d9d9d9" stroke="#3a3a3a" stroke-width="2"/><path d="M2636 2661 Q2651 2655.0 2663.0 2663.0 L2658.5 2677.0 Q2651 2682.0 2640.5 2675.0 Z" fill="#0b0b0b"/><path d="M2681 2674 Q2670 2674 2670 2682.4 L2670 2698" fill="none" stroke="#1c1c1c" stroke-width="3.5"/><path d="M2696.875 2617.83 A25.5 25.5 0 1 1 2735.125 2617.83 L2731.5 2635.425 L2731.5 2687.5 A15.5 15.5 0 0 1 2700.5 2687.5 L2700.5 2635.425 Z" fill="#f9f9f9" stroke="#f9f9f9" stroke-width="6"/><path d="M2696.875 2617.83 A25.5 25.5 0 1 1 2735.125 2617.83 L2731.5 2635.425 L2731.5 2687.5 A15.5 15.5 0 0 1 2700.5 2687.5 L2700.5 2635.425 Z" fill="#dcdcdc" stroke="#3d3d3d" stroke-width="2.5"/><path d="M2694.325 2608.65 A22.95 22.95 0 0 1 2713.45 2579.325 L2714.725 2623.95 Z" fill="#ffffff"/><path d="M2702.5 2658.375 Q2716 2648.175 2729.5 2663.4750000000004 L2729.5 2687.5 A13.5 13.5 0 0 1 2702.5 2687.5 Z" fill="#0a0a0a"/><path d="M2704.5 2668.9 L2727.5 2678.2" stroke="#9a9a9a" stroke-width="3"/><ellipse cx="2738" cy="2701" rx="7.6499999999999995" ry="9" fill="#f2f1f1" stroke="#605f5f" stroke-width="2.2"/><ellipse cx="2739" cy="2702" rx="4.05" ry="4.5" fill="#b9b8b8"/><line x1="2734.85" y1="2703.7" x2="2741.15" y2="2698.3" stroke="#3c3b3b" stroke-width="2.2"/><ellipse cx="2551" cy="2739" rx="7.6499999999999995" ry="9" fill="#f2f1f1" stroke="#605f5f" stroke-width="2.2"/><ellipse cx="2552" cy="2740" rx="4.05" ry="4.5" fill="#b9b8b8"/><line x1="2547.85" y1="2741.7" x2="2554.15" y2="2736.3" stroke="#3c3b3b" stroke-width="2.2"/><ellipse cx="2501" cy="2703" rx="8.0" ry="10" fill="#f4f4f4" stroke="#4a4949" stroke-width="2.5"/><ellipse cx="2503" cy="2704" rx="3.5" ry="5.0" fill="#555"/><ellipse cx="2501" cy="2743" rx="8.0" ry="10" fill="#f4f4f4" stroke="#4a4949" stroke-width="2.5"/><ellipse cx="2503" cy="2744" rx="3.5" ry="5.0" fill="#555"/><ellipse cx="2501" cy="2842" rx="8.0" ry="10" fill="#f4f4f4" stroke="#4a4949" stroke-width="2.5"/><ellipse cx="2503" cy="2843" rx="3.5" ry="5.0" fill="#555"/><line x1="245.5" y1="1959" x2="245.5" y2="2029" stroke="#dd6a1e" stroke-width="3.8"/><line x1="363.6" y1="1959" x2="363.6" y2="2272" stroke="#dd6a1e" stroke-width="3.8"/><g stroke="#dd6a1e" stroke-width="3.8" fill="none" stroke-linecap="butt"><line x1="245.5" y1="1969.8" x2="363.6" y2="1969.8"/><polyline points="264.5,1958.8 246.5,1969.8 264.5,1980.8"/><polyline points="344.6,1958.8 362.6,1969.8 344.6,1980.8"/></g><line x1="362" y1="2263" x2="478" y2="2263" stroke="#dd6a1e" stroke-width="3.8"/><line x1="344" y1="2606" x2="478" y2="2606" stroke="#dd6a1e" stroke-width="3.8"/><g stroke="#dd6a1e" stroke-width="3.8" fill="none"><line x1="464.5" y1="2263" x2="464.5" y2="2606"/><polyline points="453.5,2282 464.5,2264 475.5,2282"/><polyline points="453.5,2587 464.5,2605 475.5,2587"/></g><line x1="759" y1="1974" x2="759" y2="2047" stroke="#dd6a1e" stroke-width="3.8"/><line x1="892.3" y1="1976" x2="892.3" y2="2276" stroke="#dd6a1e" stroke-width="3.8"/><g stroke="#dd6a1e" stroke-width="3.8" fill="none" stroke-linecap="butt"><line x1="759" y1="1986" x2="892.3" y2="1986"/><polyline points="778,1975 760,1986 778,1997"/><polyline points="873.3,1975 891.3,1986 873.3,1997"/></g><line x1="890" y1="2256" x2="991" y2="2256" stroke="#dd6a1e" stroke-width="3.8"/><line x1="872" y1="2600" x2="992" y2="2600" stroke="#dd6a1e" stroke-width="3.8"/><g stroke="#dd6a1e" stroke-width="3.8" fill="none"><line x1="979" y1="2256" x2="979" y2="2600"/><polyline points="968,2275 979,2257 990,2275"/><polyline points="968,2581 979,2599 990,2581"/></g><line x1="1307.2" y1="1972" x2="1307.2" y2="2043" stroke="#dd6a1e" stroke-width="3.8"/><line x1="1501.6" y1="1972" x2="1501.6" y2="2283" stroke="#dd6a1e" stroke-width="3.8"/><g stroke="#dd6a1e" stroke-width="3.8" fill="none" stroke-linecap="butt"><line x1="1307.2" y1="1982.6" x2="1501.6" y2="1982.6"/><polyline points="1326.2,1971.6 1308.2,1982.6 1326.2,1993.6"/><polyline points="1482.6,1971.6 1500.6,1982.6 1482.6,1993.6"/></g><line x1="1499.6" y1="2281.2" x2="1638.4" y2="2281.2" stroke="#dd6a1e" stroke-width="3.8"/><line x1="1484" y1="2630.5" x2="1636" y2="2630.5" stroke="#dd6a1e" stroke-width="3.8"/><g stroke="#dd6a1e" stroke-width="3.8" fill="none"><line x1="1626" y1="2281.2" x2="1626" y2="2630.5"/><polyline points="1615,2300.2 1626,2282.2 1637,2300.2"/><polyline points="1615,2611.5 1626,2629.5 1637,2611.5"/></g><line x1="1938" y1="1968" x2="1938" y2="2037" stroke="#dd6a1e" stroke-width="3.8"/><line x1="2124.5" y1="1968" x2="2124.5" y2="2303" stroke="#dd6a1e" stroke-width="3.8"/><g stroke="#dd6a1e" stroke-width="3.8" fill="none" stroke-linecap="butt"><line x1="1938" y1="1979" x2="2124.5" y2="1979"/><polyline points="1957,1968 1939,1979 1957,1990"/><polyline points="2105.5,1968 2123.5,1979 2105.5,1990"/></g><line x1="2122.5" y1="2301" x2="2265" y2="2301" stroke="#dd6a1e" stroke-width="3.8"/><line x1="2116" y1="2585" x2="2265" y2="2585" stroke="#dd6a1e" stroke-width="3.8"/><g stroke="#dd6a1e" stroke-width="3.8" fill="none"><line x1="2256.6" y1="2301" x2="2256.6" y2="2585"/><polyline points="2245.6,2320 2256.6,2302 2267.6,2320"/><polyline points="2245.6,2566 2256.6,2584 2267.6,2566"/></g><line x1="2533" y1="1962" x2="2533" y2="2048" stroke="#dd6a1e" stroke-width="3.8"/><line x1="2718" y1="1962" x2="2718" y2="2273" stroke="#dd6a1e" stroke-width="3.8"/><g stroke="#dd6a1e" stroke-width="3.8" fill="none" stroke-linecap="butt"><line x1="2533" y1="1988" x2="2718" y2="1988"/><polyline points="2552,1977 2534,1988 2552,1999"/><polyline points="2699,1977 2717,1988 2699,1999"/></g><line x1="2716" y1="2271" x2="2819" y2="2271" stroke="#dd6a1e" stroke-width="3.8"/><line x1="2704" y1="2600" x2="2816" y2="2600" stroke="#dd6a1e" stroke-width="3.8"/><g stroke="#dd6a1e" stroke-width="3.8" fill="none"><line x1="2808" y1="2271" x2="2808" y2="2600"/><polyline points="2797,2290 2808,2272 2819,2290"/><polyline points="2797,2581 2808,2599 2819,2581"/></g><text x="473.90" y="1162.30" font-size="66.13" font-weight="normal" fill="#000" textLength="213.37" lengthAdjust="spacingAndGlyphs">148mm</text><text x="1424.70" y="296.50" font-size="65.53" font-weight="normal" fill="#000" textLength="178.85" lengthAdjust="spacingAndGlyphs">65mm</text><text x="2192.40" y="296.00" font-size="64.79" font-weight="normal" fill="#000" textLength="179.88" lengthAdjust="spacingAndGlyphs">21mm</text><text x="2354.70" y="1076.50" font-size="65.53" font-weight="normal" fill="#000" textLength="178.85" lengthAdjust="spacingAndGlyphs">69mm</text><text transform="translate(1260.60 1061.00) rotate(-90)" x="0" y="0" font-size="66.13" font-weight="normal" fill="#000" textLength="216.42" lengthAdjust="spacingAndGlyphs">255mm</text><text x="1157.50" y="1733.30" font-size="93.83" font-weight="normal" fill="#050505" textLength="680.88" lengthAdjust="spacingAndGlyphs" stroke="#050505" stroke-width="2.4" stroke-linejoin="round">Mortise Options</text><text x="263.90" y="1942.00" font-size="63.34" font-weight="normal" fill="#141414" textLength="181.29" lengthAdjust="spacingAndGlyphs" stroke="#141414" stroke-width="1.1" stroke-linejoin="round">35mm</text><text x="775.40" y="1943.30" font-size="62.29" font-weight="normal" fill="#141414" textLength="181.59" lengthAdjust="spacingAndGlyphs" stroke="#141414" stroke-width="1.1" stroke-linejoin="round">45mm</text><text x="1345.20" y="1944.90" font-size="63.34" font-weight="normal" fill="#141414" textLength="180.47" lengthAdjust="spacingAndGlyphs" stroke="#141414" stroke-width="1.1" stroke-linejoin="round">50mm</text><text x="1971.30" y="1941.50" font-size="64.88" font-weight="normal" fill="#141414" textLength="180.78" lengthAdjust="spacingAndGlyphs" stroke="#141414" stroke-width="1.1" stroke-linejoin="round">55mm</text><text x="2566.00" y="1943.30" font-size="62.74" font-weight="normal" fill="#141414" textLength="181.30" lengthAdjust="spacingAndGlyphs" stroke="#141414" stroke-width="1.1" stroke-linejoin="round">60mm</text><text transform="translate(524.50 2535.20) rotate(-90)" x="0" y="0" font-size="61.60" font-weight="normal" fill="#141414" textLength="180.69" lengthAdjust="spacingAndGlyphs" stroke="#141414" stroke-width="1.1" stroke-linejoin="round">85mm</text><text transform="translate(1047.50 2535.20) rotate(-90)" x="0" y="0" font-size="61.60" font-weight="normal" fill="#141414" textLength="181.56" lengthAdjust="spacingAndGlyphs" stroke="#141414" stroke-width="1.1" stroke-linejoin="round">85mm</text><text transform="translate(1703.70 2533.60) rotate(-90)" x="0" y="0" font-size="61.60" font-weight="normal" fill="#141414" textLength="180.47" lengthAdjust="spacingAndGlyphs" stroke="#141414" stroke-width="1.1" stroke-linejoin="round">50mm</text><text transform="translate(2325.50 2536.80) rotate(-90)" x="0" y="0" font-size="63.16" font-weight="normal" fill="#141414" textLength="180.69" lengthAdjust="spacingAndGlyphs" stroke="#141414" stroke-width="1.1" stroke-linejoin="round">72mm</text><text transform="translate(2875.00 2517.40) rotate(-90)" x="0" y="0" font-size="63.84" font-weight="normal" fill="#141414" textLength="180.70" lengthAdjust="spacingAndGlyphs" stroke="#141414" stroke-width="1.1" stroke-linejoin="round">85mm</text>
</svg>
</body></html>
